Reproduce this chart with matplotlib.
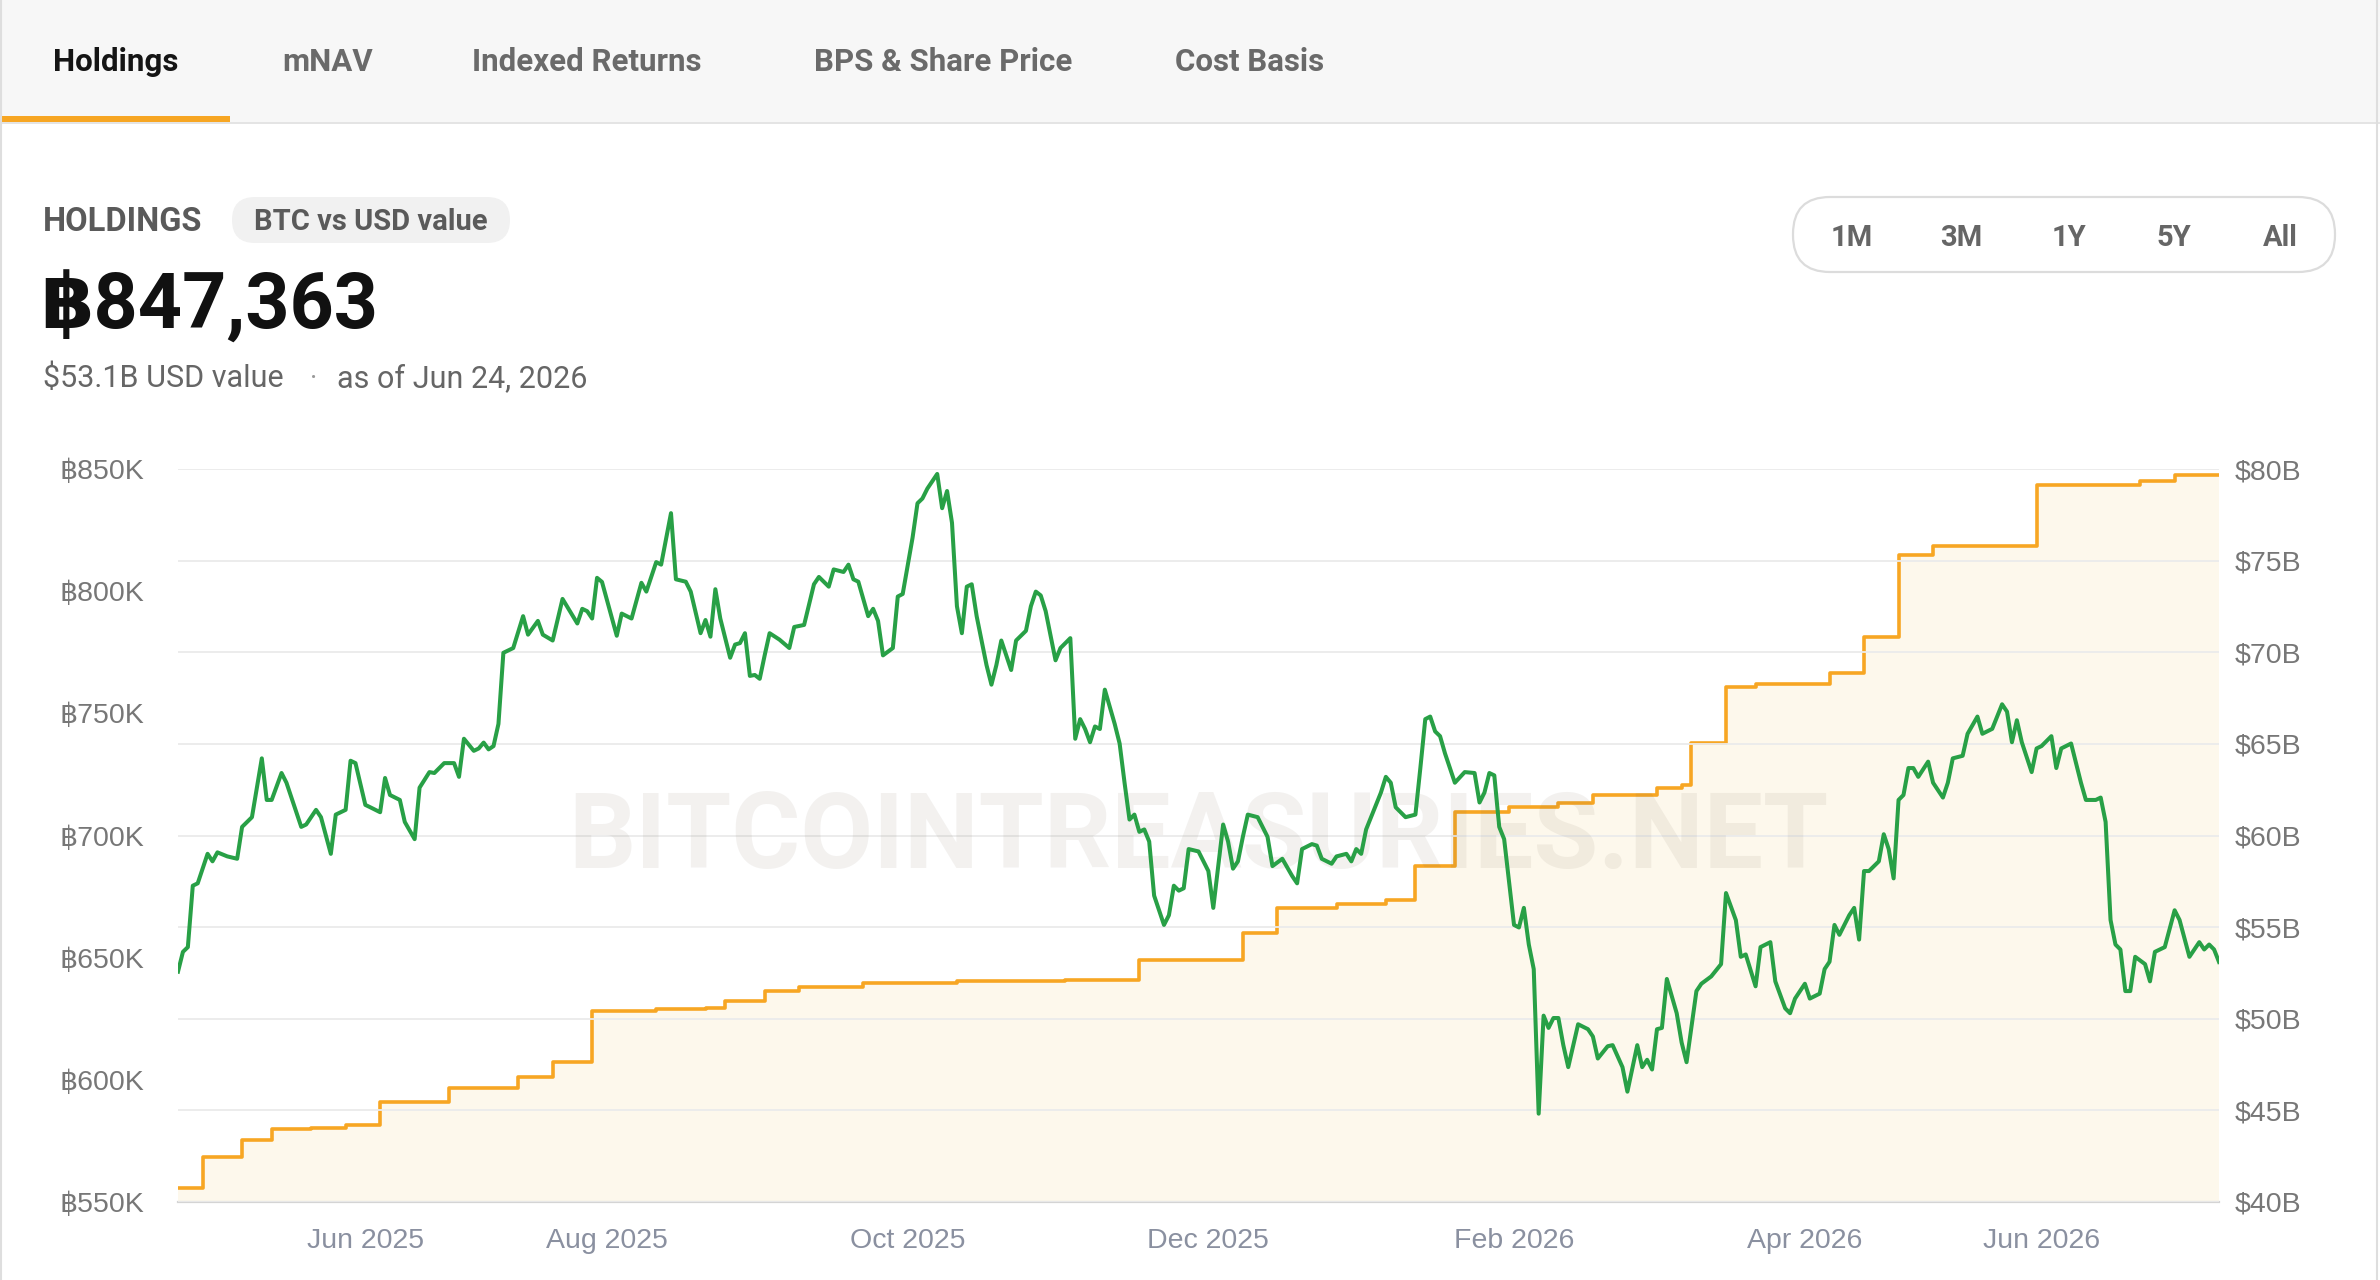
import numpy as np
import matplotlib
matplotlib.use("Agg")
import matplotlib.pyplot as plt
from matplotlib.patches import FancyBboxPatch, Rectangle

# ---------------- data ----------------
START = "2025-05-06"

usd_days = [0, 1, 2, 3, 4, 6, 7, 8, 10, 12, 13, 15, 17, 18, 19, 21, 22, 25, 26, 28, 29, 31, 32, 34, 35, 36,
            38, 39, 41, 42, 43, 45, 46, 48, 49, 51, 52, 54, 56, 57, 58, 60, 61, 62, 63, 64, 65, 66, 67, 68,
            70, 71, 73, 74, 76, 78, 81, 82, 83, 84, 85, 86, 89, 90, 92, 94, 95, 97, 98, 100, 101, 103, 104,
            106, 107, 108, 109, 110, 112, 113, 114, 115, 116, 117, 118, 119, 120, 122, 124, 125, 127, 129,
            130, 132, 133, 135, 136, 137, 138, 140, 141, 142, 143, 145, 146, 147, 149, 150, 151, 152, 154,
            155, 156, 157, 158, 159, 160, 161, 162, 164, 165, 166, 167, 168, 169, 170, 172, 173, 174, 175,
            176, 178, 179, 181, 182, 183, 184, 185, 186, 187, 188, 190, 191, 192, 193, 194, 195, 196, 197,
            198, 200, 201, 202, 203, 204, 205, 207, 209, 210, 211, 212, 213, 214, 215, 216, 217, 219, 221,
            222, 224, 226, 227, 228, 230, 231, 232, 234, 235, 237, 238, 239, 240, 241, 242, 244, 245, 246,
            247, 249, 251, 252, 253, 254, 255, 256, 257, 258, 259, 261, 263, 264, 265, 266, 267, 268, 269,
            271, 272, 273, 274, 275, 276, 277, 278, 279, 280, 281, 282, 284, 286, 287, 288, 290, 291, 293,
            294, 296, 297, 298, 299, 300, 301, 302, 304, 305, 306, 308, 309, 311, 313, 314, 316, 317, 318,
            320, 321, 323, 324, 326, 327, 328, 330, 331, 333, 334, 335, 336, 337, 339, 340, 341, 342, 343,
            345, 346, 347, 348, 349, 350, 351, 352, 353, 355, 356, 358, 359, 360, 362, 363, 365, 366, 368,
            370, 371, 372, 373, 374, 376, 377, 378, 380, 381, 382, 384, 386, 387, 389, 390, 391, 392, 393,
            394, 395, 396, 397, 399, 400, 401, 403, 405, 406, 408, 410, 411, 412, 413, 414]

usd_value_b = [52.57, 53.65, 53.91, 57.26, 57.39, 59.00, 58.59, 59.08, 58.86, 58.73, 60.47, 61.00, 64.21,
               61.94, 61.94, 63.41, 62.88, 60.47, 60.60, 61.40, 61.00, 59.00, 61.14, 61.40, 64.08, 63.95,
               61.67, 61.54, 61.27, 63.14, 62.21, 61.94, 60.74, 59.80, 62.61, 63.46, 63.41, 63.95, 63.95,
               63.20, 65.28, 64.62, 64.75, 65.07, 64.70, 64.88, 66.09, 69.97, 70.10, 70.23, 71.97, 70.96,
               71.71, 70.96, 70.64, 72.91, 71.57, 72.37, 72.24, 71.84, 74.06, 73.84, 70.90, 72.11, 71.84,
               73.79, 73.31, 74.92, 74.78, 77.59, 73.98, 73.85, 73.31, 71.04, 71.76, 70.85, 73.44, 71.84,
               69.70, 70.42, 70.50, 71.04, 68.71, 68.76, 68.55, 69.83, 71.04, 70.69, 70.23, 71.38, 71.49,
               73.71, 74.11, 73.58, 74.52, 74.38, 74.78, 73.98, 73.85, 71.97, 72.37, 71.71, 69.83, 70.23,
               73.04, 73.18, 76.25, 78.13, 78.39, 78.93, 79.73, 77.86, 78.80, 77.06, 72.51, 71.04, 73.58,
               73.71, 71.97, 69.30, 68.23, 69.30, 70.64, 69.83, 69.03, 70.64, 71.17, 72.51, 73.31, 73.10,
               72.24, 69.56, 70.23, 70.77, 65.28, 66.35, 65.81, 65.09, 65.95, 65.81, 67.96, 66.09, 65.02,
               62.88, 60.87, 61.14, 60.20, 60.33, 59.67, 56.72, 55.12, 55.65, 57.26, 56.99, 57.12, 59.26,
               59.13, 58.06, 56.05, 58.33, 60.60, 59.67, 58.19, 58.59, 59.93, 61.14, 61.00, 59.93, 58.33,
               58.73, 57.79, 57.39, 59.26, 59.53, 59.45, 58.73, 58.46, 58.86, 59.00, 58.59, 59.26, 59.00,
               60.33, 61.00, 62.34, 63.20, 62.88, 61.54, 61.00, 61.14, 63.68, 66.35, 66.49, 65.68, 65.42,
               64.48, 63.68, 62.88, 63.46, 63.41, 61.80, 62.34, 63.41, 63.28, 60.47, 59.80, 55.12, 54.98,
               56.05, 54.05, 52.71, 44.82, 50.17, 49.50, 50.04, 50.04, 48.56, 47.36, 49.70, 49.43, 49.03,
               47.83, 48.50, 48.56, 47.36, 46.02, 48.56, 47.36, 47.76, 47.23, 49.43, 49.50, 52.17, 50.30,
               48.70, 47.63, 51.51, 51.91, 52.31, 52.98, 56.86, 55.38, 53.38, 53.51, 51.77, 53.91, 54.18,
               52.04, 50.57, 50.30, 51.10, 51.91, 51.10, 51.37, 52.71, 53.11, 55.12, 54.58, 55.65, 56.05,
               54.32, 58.06, 58.06, 58.59, 60.07, 59.26, 57.66, 61.94, 62.21, 63.68, 63.68, 63.20, 64.03,
               62.88, 62.07, 62.88, 64.21, 64.35, 65.55, 66.49, 65.55, 65.82, 67.16, 66.76, 65.09, 66.29,
               65.09, 63.46, 64.75, 64.88, 65.42, 63.68, 64.75, 65.02, 62.88, 61.94, 61.94, 62.07, 60.74,
               55.39, 54.05, 53.78, 51.51, 51.51, 53.38, 52.98, 52.04, 53.65, 53.91, 55.92, 55.39, 53.38,
               54.18, 53.78, 54.05, 53.78, 53.10]

btc_days = [0, 5, 13, 19, 27, 34, 41, 55, 69, 76, 84, 97, 107, 111, 119, 126, 139, 158, 180, 195, 216, 223,
            235, 245, 251, 259, 270, 280, 287, 300, 305, 307, 314, 320, 335, 342, 349, 356, 377, 398, 405, 414]
btc_holdings_k = [555.6, 568.4, 575.4, 579.7, 580.3, 581.5, 591.1, 596.7, 601.1, 607.2, 628.2, 629.0, 629.6,
                  632.2, 636.3, 637.9, 639.7, 640.3, 641.0, 648.9, 660.3, 670.4, 672.0, 673.8, 687.4, 709.5,
                  711.5, 713.1, 716.6, 719.6, 720.6, 738.0, 760.7, 762.1, 766.7, 781.2, 814.9, 818.3, 843.6,
                  845.0, 847.363, 847.363]

tick_dates = ["2025-06-13", "2025-08-01", "2025-10-01", "2025-12-01", "2026-02-01", "2026-04-01", "2026-05-19"]
tick_labels = ["Jun 2025", "Aug 2025", "Oct 2025", "Dec 2025", "Feb 2026", "Apr 2026", "Jun 2026"]
left_ticks_k = [550, 600, 650, 700, 750, 800, 850]
right_ticks_b = [40, 45, 50, 55, 60, 65, 70, 75, 80]

tabs = ["Holdings", "mNAV", "Indexed Returns", "BPS & Share Price", "Cost Basis"]
ranges = ["1M", "3M", "1Y", "5Y", "All"]
headline = "฿847,363"
subtitle_value = "$53.1B USD value"
subtitle_date = "as of Jun 24, 2026"
watermark = "BITCOINTREASURIES.NET"

# ---------------- styling ----------------
UI = ["Roboto", "DejaVu Sans"]
AX = ["Liberation Sans", "DejaVu Sans"]
GREEN = "#28a046"
ORANGE = "#f7a623"
FILL = "#fdf8ec"

W, H = 2380, 1280
fig = plt.figure(figsize=(W / 100, H / 100), dpi=100)
fig.patch.set_facecolor("white")

# overlay in pixel coordinates for the page chrome
bg = fig.add_axes([0, 0, 1, 1])
bg.set_xlim(0, W)
bg.set_ylim(H, 0)
bg.axis("off")

bg.add_patch(Rectangle((0, 0), W, 122, facecolor="#f7f7f7", edgecolor="none"))
bg.add_patch(Rectangle((0, 122), W, 2, facecolor="#e4e4e4", edgecolor="none"))
bg.add_patch(Rectangle((0, 116), 230, 6, facecolor=ORANGE, edgecolor="none"))
bg.plot([1, 1], [0, H], color="#dedede", lw=1.5)
bg.plot([W - 3, W - 3], [0, H], color="#dedede", lw=1.5)

tab_x = [53, 282, 472, 814, 1175]
for i, (t, x) in enumerate(zip(tabs, tab_x)):
    bg.text(x, 71, t, ha="left", va="baseline", fontsize=22.5, fontweight="bold",
            color="#151515" if i == 0 else "#6a6a6a", family=UI)

bg.text(43, 231, "HOLDINGS", ha="left", va="baseline", fontsize=23.5, fontweight="bold",
        color="#5a5a5a", family=UI)
bg.add_patch(FancyBboxPatch((232, 197), 278, 46, boxstyle="round,pad=0,rounding_size=23",
                            facecolor="#f1f1f1", edgecolor="none"))
bg.text(371, 230, "BTC vs USD value", ha="center", va="baseline", fontsize=21, fontweight="bold",
        color="#5a5a5a", family=UI)

bg.text(40, 329, headline, ha="left", va="baseline", fontsize=55.5, fontweight="bold",
        color="#111111", family=UI)
bg.text(43, 387, subtitle_value, ha="left", va="baseline", fontsize=22, color="#666666", family=UI)
bg.text(314, 378, "·", ha="center", va="center", fontsize=20, color="#999999", family=UI)
bg.text(337, 387, subtitle_date, ha="left", va="baseline", fontsize=22, color="#666666", family=UI)

bg.add_patch(FancyBboxPatch((1793, 197), 542, 75, boxstyle="round,pad=0,rounding_size=37",
                            facecolor="white", edgecolor="#dcdcdc", lw=1.6))
range_x = [1852, 1961, 2069, 2174, 2280]
for r, x in zip(ranges, range_x):
    bg.text(x, 246, r, ha="center", va="baseline", fontsize=21, fontweight="bold",
            color="#666666", family=UI)

# ---------------- chart ----------------
start = np.datetime64(START)
x_usd = start + np.array(usd_days).astype("timedelta64[D]")
x_btc = start + np.array(btc_days).astype("timedelta64[D]")

ax = fig.add_axes([178 / W, (H - 1202) / H, 2041 / W, 733 / H])
ax.set_facecolor("none")
ax2 = ax.twinx()

ax.fill_between(x_btc, btc_holdings_k, left_ticks_k[0], step="post", color=FILL, lw=0, zorder=1)
ax.step(x_btc, btc_holdings_k, where="post", color=ORANGE, lw=2.6, zorder=3)

ax2.plot(x_usd, usd_value_b, color=GREEN, lw=2.9, solid_joinstyle="round", zorder=3)

ax.set_xlim(start, start + np.timedelta64(414, "D"))
ax.set_ylim(left_ticks_k[0], left_ticks_k[-1])
ax2.set_ylim(right_ticks_b[0], right_ticks_b[-1])

ax.set_yticks(left_ticks_k)
ax.set_yticklabels([f"฿{v}K" for v in left_ticks_k])
ax2.set_yticks(right_ticks_b)
ax2.set_yticklabels([f"${v}B" for v in right_ticks_b])
ax.set_xticks(np.array(tick_dates, dtype="datetime64[D]"))
ax.set_xticklabels(tick_labels)

ax2.set_axisbelow(True)
ax2.yaxis.grid(True, color="#ebebeb", lw=1.3, zorder=0)
ax.xaxis.grid(False)

for a in (ax, ax2):
    for s in a.spines.values():
        s.set_visible(False)
ax.spines["bottom"].set_visible(True)
ax.spines["bottom"].set_color("#d4d4d4")
ax.spines["bottom"].set_linewidth(1.6)

ax.tick_params(axis="y", length=0, pad=24, labelsize=20.5, labelcolor="#777777")
ax2.tick_params(axis="y", length=0, pad=11, labelsize=20.5, labelcolor="#777777")
ax.tick_params(axis="x", length=0, pad=19, labelsize=20.5, labelcolor="#8a90a0")
for lab in ax.get_yticklabels() + ax2.get_yticklabels() + ax.get_xticklabels():
    lab.set_family(AX)

ax2.text(0.5, 0.494, watermark, transform=ax2.transAxes, ha="center", va="center",
         fontsize=76, fontweight="bold", color="#7a6a55", alpha=0.09, zorder=0.6,
         family=["Roboto", "DejaVu Sans"])

fig.savefig("out.png", dpi=100)
